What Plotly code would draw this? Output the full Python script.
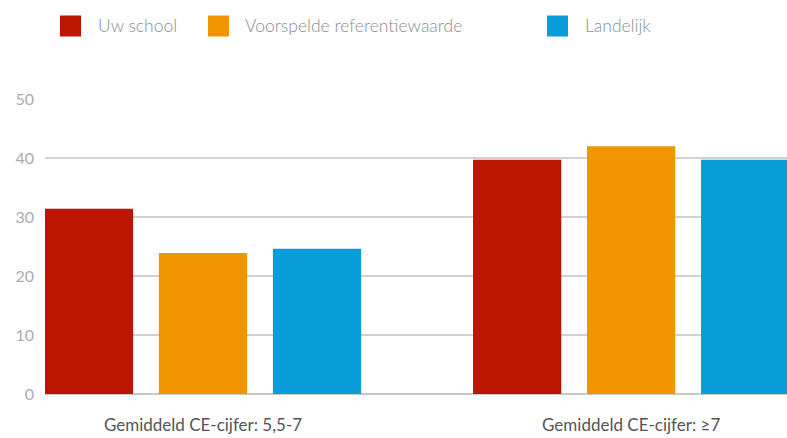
import plotly.graph_objects as go

categories = ["Gemiddeld CE-cijfer: 5,5-7", "Gemiddeld CE-cijfer: ≥7"]
series_names = ["Uw school", "Voorspelde referentiewaarde", "Landelijk"]
uw_school = [31.4, 39.7]
referentie = [23.9, 42.0]
landelijk = [24.6, 39.7]
y_ticks = [0, 10, 20, 30, 40, 50]

colors = ["#BD1600", "#F29400", "#0A9CD8"]
values = [uw_school, referentie, landelijk]

W, H = 787, 438
ML, MR, MT, MB = 45, 0, 99, 44
pw = W - ML - MR
ph = H - MT - MB

fig = go.Figure()
xpos = list(range(len(categories)))
for name, vals, col in zip(series_names, values, colors):
    fig.add_trace(go.Bar(x=xpos, y=vals, name=name, marker=dict(color=col, line=dict(width=0)),
                         showlegend=False))

# manual legend (large square swatches)
legend_px = [(60, 96), (208, 243), (547, 583)]
sq = 21
cy = 26
for (sx, tx), name, col in zip(legend_px, series_names, colors):
    fig.add_shape(type="rect", xref="paper", yref="paper",
                  x0=(sx - ML) / pw, x1=(sx + sq - ML) / pw,
                  y0=(H - MB - (cy + sq / 2)) / ph, y1=(H - MB - (cy - sq / 2)) / ph,
                  fillcolor=col, line=dict(width=0))
    fig.add_annotation(xref="paper", yref="paper", x=(tx - ML) / pw, y=(H - MB - cy) / ph,
                       text=name, showarrow=False, xanchor="left", yanchor="middle",
                       font=dict(family="Lato", size=17.5, color="#8c8c8c", weight=300))

fig.update_layout(
    width=W, height=H,
    margin=dict(l=ML, r=MR, t=MT, b=MB, autoexpand=False),
    paper_bgcolor="white", plot_bgcolor="white",
    barmode="group", bargap=0.201, bargroupgap=0.226,
    showlegend=False,
    font=dict(family="Lato"),
)
fig.update_xaxes(
    range=[-0.369, 1.364], tickvals=xpos, ticktext=categories, automargin=False,
    showgrid=False, zeroline=False, showline=False, ticks="",
    tickfont=dict(family="Lato", size=17, color="#555555"),
    ticklabelstandoff=19,
)
fig.update_yaxes(
    range=[0, 50], tickvals=y_ticks, showgrid=True, gridcolor="#d2d2d2", gridwidth=1.5,
    zeroline=True, zerolinecolor="#c8c8c8", zerolinewidth=1.5, showline=False, ticks="",
    tickfont=dict(family="Lato", size=16, color="#ababab"), automargin=False,
    ticklabelstandoff=10,
)

fig.write_html("out.html", config={"displayModeBar": False},
               post_script="document.body.style.margin='0';document.body.style.overflow='hidden';")
